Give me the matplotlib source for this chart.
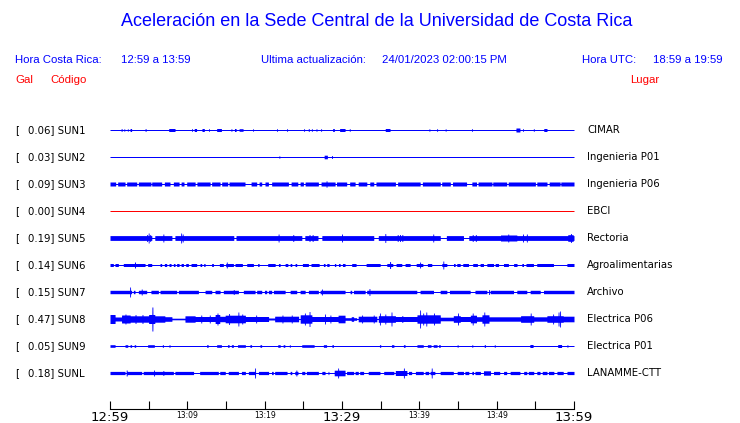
import matplotlib
matplotlib.use("Agg")
import matplotlib.pyplot as plt
import numpy as np

# datos
codes = ["SUN1", "SUN2", "SUN3", "SUN4", "SUN5", "SUN6", "SUN7", "SUN8", "SUN9", "SUNL"]
gal = [0.06, 0.03, 0.09, 0.00, 0.19, 0.14, 0.15, 0.47, 0.05, 0.18]
places = ["CIMAR", "Ingenieria P01", "Ingenieria P06", "EBCI", "Rectoria",
          "Agroalimentarias", "Archivo", "Electrica P06", "Electrica P01", "LANAMME-CTT"]
tick_labels = ["12:59", "", "13:09", "", "13:19", "", "13:29", "", "13:39", "", "13:49", "", "13:59"]

# amplitud base de cada traza (px) y tramos (min inicio, min fin, semiamplitud px)
base_amp = [0.5, 0.5, 0.5, 0.5, 0.5, 0.5, 0.5, 0.5, 0.5, 0.5]

sun1 = [(1.5, 1.5, 1.5), (1.85, 1.85, 1.2), (2.3, 2.3, 1.2), (2.6, 2.8, 1.5), (4.6, 4.6, 1.5),
        (7.6, 8.4, 1.5), (10.6, 10.6, 1.3), (10.9, 11.2, 1.5), (11.9, 12.2, 1.5), (12.8, 12.8, 1.3),
        (13.8, 14.4, 1.5), (15.7, 15.7, 1.3), (16.1, 16.3, 1.5), (16.7, 17.2, 1.3), (18.5, 18.5, 1.2),
        (21.6, 21.6, 1.3), (22.9, 22.9, 1.3), (25.1, 25.1, 1.3), (25.7, 25.7, 1.5), (26.1, 26.1, 1.3),
        (26.7, 26.7, 1.3), (27.3, 27.3, 1.3), (28.8, 29.0, 1.5), (29.7, 30.4, 1.5), (31.0, 31.0, 1.3),
        (35.6, 36.2, 1.5), (41.3, 41.3, 1.2), (42.3, 42.3, 1.3), (43.4, 43.4, 1.2), (46.8, 46.8, 1.3),
        (52.5, 53.0, 2.0), (53.4, 53.4, 1.3), (54.8, 54.8, 1.3), (56.1, 56.5, 1.5)]
sun2 = [(21.9, 21.9, 1.2), (27.7, 28.1, 1.8), (28.7, 28.7, 1.5)]
sun3 = [(0, 0.73, 2), (1.0, 1.94, 2), (2.16, 3.45, 2), (3.67, 5.3, 2), (5.39, 6.68, 2), (7.03, 7.76, 2),
        (8.19, 8.93, 2), (9.19, 9.57, 2), (9.92, 11.0, 2), (11.25, 12.94, 2), (13.15, 14.23, 2),
        (14.45, 15.22, 2), (15.39, 17.46, 2), (18.24, 18.97, 2), (19.28, 19.62, 2), (20.05, 20.48, 2),
        (20.91, 23.07, 2), (23.42, 24.28, 2), (24.58, 25.01, 2), (25.23, 26.95, 2), (27.3, 29.1, 2),
        (28.0, 28.0, 3.2), (29.3, 30.4, 2), (30.4, 30.6, 2), (31.0, 31.7, 2), (32.1, 33.2, 2),
        (33.6, 34.1, 2), (34.4, 36.9, 2), (37.2, 40.1, 2), (40.4, 42.7, 2), (42.9, 44.0, 2),
        (44.3, 46.1, 2), (46.8, 47.4, 2), (47.6, 49.4, 2), (49.5, 51.3, 2), (51.5, 55.0, 2),
        (55.2, 56.5, 2), (56.8, 58.2, 2), (58.3, 60, 2)]
sun4 = []
sun5 = [(0, 5.4, 2.4), (5.8, 8.0, 2.4), (8.4, 16.0, 2.4), (16.3, 24.8, 2.4), (25.2, 26.9, 2.4),
        (27.4, 34.1, 2.4), (34.7, 42.7, 2.4), (43.5, 45.7, 2.4), (46.4, 60, 2.4),
        (4.8, 4.8, 3.5), (5.0, 5.0, 5), (5.2, 5.2, 3.5), (6.9, 6.9, 4), (9.2, 9.2, 5), (9.4, 9.4, 4),
        (21.8, 21.8, 4), (23.7, 23.7, 3.5), (25.8, 25.8, 3.5), (26.2, 26.2, 3.5), (30.0, 30.0, 4),
        (35.6, 35.6, 4.5), (37.2, 37.2, 3.5), (37.5, 37.5, 3.5), (37.8, 37.8, 3.5), (41.8, 41.8, 4),
        (46.9, 46.9, 3.5), (47.3, 47.3, 3.5), (50.5, 52.6, 3.0), (51.5, 51.5, 4), (53.4, 53.4, 4),
        (53.9, 53.9, 4), (59.2, 59.9, 3.3), (59.6, 59.6, 4.5)]
sun6 = [(0, 0.43, 1.5), (0.65, 1.08, 1.5), (1.72, 4.53, 1.5), (3.23, 3.23, 3), (4.87, 5.39, 1.5),
        (6.47, 6.68, 1.5), (7.03, 7.33, 1.5), (7.63, 7.89, 1.5), (8.19, 8.41, 1.5), (8.62, 8.93, 1.5),
        (9.19, 9.49, 1.5), (9.79, 10.13, 1.5), (10.48, 11.21, 1.5), (11.64, 11.86, 1.5), (12.12, 12.29, 1.5),
        (13.15, 13.37, 1.5), (14.14, 14.66, 1.5), (14.96, 15.96, 1.5), (15.1, 15.1, 3), (16.17, 17.12, 1.5),
        (17.68, 18.54, 1.5), (19.1, 19.28, 1.5), (20.4, 21.35, 1.5), (21.78, 21.99, 1.5), (22.64, 22.99, 1.5),
        (23.29, 23.5, 1.5), (23.93, 24.15, 1.5), (24.88, 25.66, 1.5), (26.0, 27.04, 1.5), (27.6, 27.81, 1.5),
        (28.03, 28.33, 1.5), (29.02, 29.19, 1.5), (29.54, 29.75, 1.5), (30.06, 30.4, 1.5), (31.26, 31.82, 1.5),
        (33.12, 34.93, 1.5), (35.79, 36.57, 1.5), (36.22, 36.22, 3.5), (37.0, 37.73, 1.5), (38.16, 38.81, 1.5),
        (39.59, 40.45, 1.5), (40.1, 40.1, 3), (41.05, 41.61, 1.5), (42.91, 43.56, 1.5), (43.1, 43.1, 4),
        (44.42, 44.63, 1.5), (44.85, 45.28, 1.5), (45.62, 46.35, 1.5), (46.91, 47.51, 1.5), (47.86, 48.3, 1.5),
        (48.73, 49.59, 1.5), (49.81, 50.24, 1.5), (50.88, 51.52, 1.5), (52.2, 52.63, 1.5), (53.26, 53.47, 1.5),
        (53.8, 54.76, 1.5), (55.18, 57.34, 1.5), (59.08, 60, 1.5)]
sun7 = [(0, 2.8, 1.7), (2.6, 2.6, 5), (3.02, 3.23, 1.7), (3.67, 4.74, 1.7), (4.1, 4.1, 3), (5.3, 6.25, 1.7),
        (6.47, 8.62, 1.7), (8.84, 11.43, 1.7), (12.29, 13.15, 1.7), (13.58, 14.23, 1.7), (14.66, 16.6, 1.7),
        (16.0, 16.0, 2.5), (17.25, 18.76, 1.7), (18.97, 19.62, 1.7), (19.97, 20.27, 1.7), (20.48, 20.91, 1.7),
        (21.13, 22.64, 1.7), (23.29, 24.15, 1.7), (24.58, 25.23, 1.7), (25.66, 26.95, 1.7), (27.17, 30.4, 1.7),
        (27.4, 27.4, 3), (31.05, 31.26, 1.7), (31.48, 32.99, 1.7), (33.2, 39.67, 1.7), (33.55, 33.55, 3.5),
        (40.1, 41.83, 1.7), (42.7, 43.56, 1.7), (43.9, 46.57, 1.7), (47.2, 48.73, 1.7), (49.0, 49.0, 2.5),
        (49.16, 52.18, 1.7), (52.61, 53.9, 1.7), (54.33, 55.63, 1.7), (56.06, 60, 1.7)]
sun8 = [(0, 0.65, 4.5), (0.65, 1.5, 2), (1.5, 2.6, 4.0), (2.0, 2.0, 5), (2.6, 5.0, 3.2), (3.3, 3.3, 4.5),
        (4.2, 4.2, 4.5), (5.0, 5.8, 4.5), (5.48, 5.48, 12), (5.8, 7.1, 3.2), (7.1, 8.0, 2.3), (8.0, 9.7, 0.8),
        (9.7, 11.0, 3.2), (11.0, 13.6, 2.5), (11.8, 11.8, 4), (12.9, 12.9, 4), (13.6, 14.2, 4.5),
        (13.9, 13.9, 6), (14.2, 14.9, 2.7), (14.9, 16.2, 3.8), (15.4, 15.4, 5.5), (16.2, 17.5, 3.8),
        (16.6, 16.6, 7), (17.1, 17.1, 5), (17.5, 20.5, 2.5), (18.9, 18.9, 4), (20.5, 21.3, 1),
        (21.3, 24.4, 2.8), (22.3, 22.3, 4), (23.5, 23.5, 4), (24.6, 26.1, 4.2), (25.2, 25.2, 6),
        (25.8, 25.8, 7.5), (26.1, 29.5, 2.5), (27.8, 27.8, 5), (28.5, 28.5, 4), (29.5, 30.4, 3.8),
        (30.4, 31.9, 1.3), (31.2, 31.5, 2.3), (32.1, 34.5, 2.8), (32.6, 32.6, 4), (34.1, 34.1, 4),
        (34.7, 36.9, 3.3), (34.9, 34.9, 6), (35.6, 35.6, 5), (36.4, 36.4, 7), (36.9, 39.7, 2.5),
        (37.8, 37.8, 3.5), (39.7, 42.7, 4.2), (40.1, 40.1, 9), (40.5, 40.5, 6), (40.9, 40.9, 7),
        (41.9, 41.9, 6), (42.7, 44.4, 1.8), (44.4, 45.3, 3.3), (45.0, 45.0, 6), (45.3, 46.6, 2.5),
        (46.6, 47.4, 3.8), (46.9, 46.9, 6), (47.4, 48.1, 2.3), (48.1, 49.0, 4.2), (48.4, 48.4, 7),
        (49.0, 53.1, 2.2), (53.1, 54.8, 3.3), (54.4, 54.4, 6), (54.8, 56.5, 2.2), (56.5, 58.6, 3.3),
        (57.3, 57.3, 5), (58.0, 58.0, 7), (58.2, 58.2, 8), (58.6, 60, 2.8)]
sun9 = [(0, 0.65, 1.3), (1.94, 2.29, 1.3), (2.59, 2.8, 1.3), (3.13, 3.32, 1.3), (4.87, 5.73, 1.3),
        (6.77, 6.9, 1.3), (7.63, 7.76, 1.3), (12.5, 12.7, 1.3), (13.8, 14.4, 1.3), (15.2, 15.4, 1.3),
        (15.7, 15.96, 1.3), (16.5, 17.5, 1.3), (18.1, 18.3, 1.3), (19.4, 19.6, 1.3), (21.7, 22.0, 1.3),
        (22.4, 22.6, 1.3), (23.2, 23.3, 1.3), (24.8, 26.4, 1.3), (27.6, 28.0, 1.3), (28.7, 28.9, 1.3),
        (34.84, 35.0, 1.3), (36.4, 36.7, 1.3), (37.95, 38.16, 1.3), (39.7, 40.5, 1.3), (41.05, 41.5, 1.3),
        (41.8, 42.3, 1.3), (42.5, 42.7, 1.3), (44.9, 45.0, 1.3), (46.8, 46.9, 1.3), (48.4, 48.56, 1.3),
        (49.7, 49.8, 1.3), (54.3, 54.7, 1.5), (57.9, 58.4, 1.5), (59.1, 59.2, 1.3)]
sunl = [(0, 1.94, 1.6), (2.16, 4.1, 1.6), (2.16, 2.16, 3), (4.3, 8.2, 1.6), (5.7, 5.7, 3), (6.9, 6.9, 2.5),
        (8.4, 10.8, 1.6), (11.6, 14.0, 1.6), (14.2, 14.9, 1.6), (15.3, 16.6, 1.6), (17.0, 17.5, 1.6),
        (17.9, 18.8, 1.6), (18.76, 18.76, 5), (19.2, 20.5, 1.6), (20.9, 21.1, 1.6), (21.3, 22.9, 1.6),
        (23.3, 23.5, 1.6), (23.9, 24.3, 1.6), (24.1, 24.1, 3), (24.8, 25.2, 1.6), (25.4, 26.95, 1.6),
        (27.4, 27.8, 1.6), (28.2, 28.3, 1.6), (29.0, 30.4, 2.8), (29.5, 29.5, 5), (30.6, 31.5, 1.6),
        (31.7, 32.1, 1.6), (32.3, 32.8, 1.6), (33.4, 34.9, 1.6), (35.4, 36.7, 1.6), (36.9, 38.4, 2.5),
        (38.0, 38.0, 5), (38.6, 39.0, 1.6), (39.5, 40.5, 1.6), (40.75, 41.2, 1.6), (41.4, 42.0, 1.6),
        (41.6, 41.6, 5), (42.7, 44.4, 1.6), (44.9, 45.7, 1.6), (45.9, 46.4, 1.6), (46.8, 47.0, 1.6),
        (47.2, 47.9, 1.6), (48.3, 49.2, 2.2), (49.6, 50.4, 1.6), (50.9, 51.3, 1.6), (51.75, 53.0, 1.6),
        (53.5, 53.9, 1.6), (54.1, 54.8, 1.6), (55.2, 55.6, 1.6), (55.9, 56.5, 1.6), (56.7, 57.4, 1.6),
        (57.8, 58.6, 1.6), (59.1, 60, 1.6)]

traces = [sun1, sun2, sun3, sun4, sun5, sun6, sun7, sun8, sun9, sunl]
colors = ["#0000ff"] * 3 + ["#ff0000"] + ["#0000ff"] * 6

W, H = 740, 423
fig = plt.figure(figsize=(W / 100, H / 100), dpi=100)


def fx(x):
    return x / W


def fy(y):
    return 1 - y / H


blue = "#0000ff"
red = "#ff0000"
hdr = dict(family="Liberation Sans", fontsize=8.2, va="center", color=blue)

fig.text(fx(377), fy(21), "Aceleración en la Sede Central de la Universidad de Costa Rica",
         ha="center", va="center", color=blue, fontsize=13, family="Liberation Sans")
fig.text(fx(15), fy(60), "Hora Costa Rica:", **hdr)
fig.text(fx(121), fy(60), "12:59 a 13:59", **hdr)
fig.text(fx(261), fy(60), "Ultima actualización:", **hdr)
fig.text(fx(382), fy(60), "24/01/2023 02:00:15 PM", **hdr)
fig.text(fx(582), fy(60), "Hora UTC:", **hdr)
fig.text(fx(653), fy(60), "18:59 a 19:59", **hdr)
hdr["color"] = red
fig.text(fx(15), fy(80), "Gal", **hdr)
fig.text(fx(50), fy(80), "Código", **hdr)
fig.text(fx(630), fy(80), "Lugar", **hdr)

# trazas
ax = fig.add_axes([fx(110), fy(400), 464 / W, 285 / H])
ax.set_xlim(0, 60)
ax.set_ylim(400, 115)
ax.axis("off")

t = np.linspace(0, 60, 4801)
for i, blocks in enumerate(traces):
    yc = 130 + 27 * i
    env = np.full_like(t, base_amp[i])
    for t0, t1, h in blocks:
        if t1 - t0 < 0.12:
            c = (t0 + t1) / 2
            t0, t1 = c - 0.06, c + 0.06
        m = (t >= t0) & (t <= t1)
        env[m] = np.maximum(env[m], h)
    ax.fill_between(t, yc - env, yc + env, color=colors[i], lw=0, antialiased=False)

    lab = dict(family="DejaVu Sans", fontsize=7.3, va="center", color="black")
    fig.text(fx(15), fy(yc), "[", **lab)
    fig.text(fx(28), fy(yc), f"{gal[i]:0.2f}] {codes[i]}", **lab)
    fig.text(fx(587), fy(yc), places[i], **lab)

# eje de tiempo
ax_t = fig.add_axes([fx(110), fy(409), 464 / W, 10 / H])
ax_t.set_xlim(0, 60)
ax_t.set_ylim(0, 1)
for s in ["top", "left", "right"]:
    ax_t.spines[s].set_visible(False)
ax_t.spines["bottom"].set_linewidth(0.8)
ax_t.set_yticks([])
ax_t.set_xticks(np.arange(0, 61, 5))
ax_t.set_xticklabels(tick_labels, family="DejaVu Sans")
ax_t.tick_params(axis="x", direction="in", length=6, width=0.8, pad=1.5)
for k, lbl in enumerate(ax_t.get_xticklabels()):
    lbl.set_fontsize(9.5 if k % 6 == 0 else 5.5)
ax_t.patch.set_alpha(0)

fig.savefig("out.png", dpi=100)
